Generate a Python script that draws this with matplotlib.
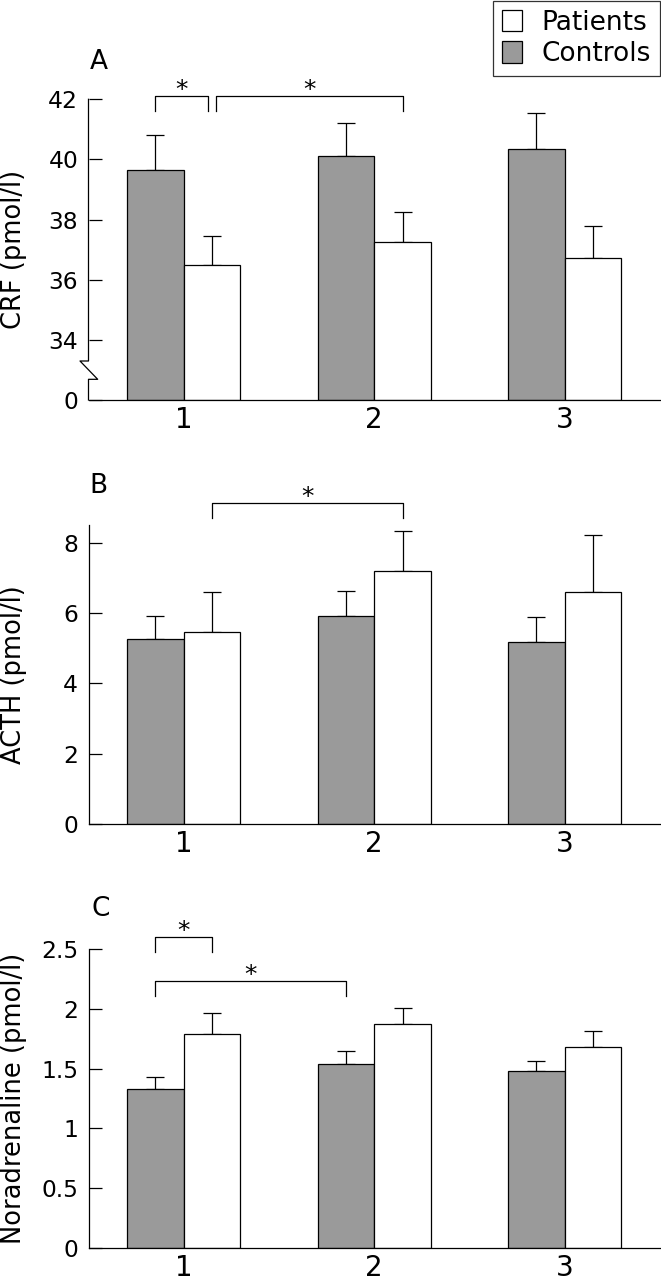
import numpy as np
import matplotlib
matplotlib.use('Agg')
import matplotlib.pyplot as plt
from matplotlib.lines import Line2D

# --- data ---
groups = [1, 2, 3]
group_labels = ['1', '2', '3']

crf_controls = [39.64, 40.12, 40.34]
crf_controls_se = [1.17, 1.10, 1.22]
crf_patients = [36.49, 37.24, 36.73]
crf_patients_se = [0.95, 1.02, 1.07]

acth_controls = [5.26, 5.91, 5.19]
acth_controls_se = [0.65, 0.72, 0.69]
acth_patients = [5.45, 7.20, 6.61]
acth_patients_se = [1.16, 1.13, 1.62]

nor_controls = [1.33, 1.54, 1.48]
nor_controls_se = [0.10, 0.11, 0.08]
nor_patients = [1.79, 1.87, 1.68]
nor_patients_se = [0.17, 0.135, 0.135]

GREY = '#9a9a9a'
W, H = 661, 1280
BW = 0.297
plt.rcParams['font.family'] = ['DejaVu Sans']

fig = plt.figure(figsize=(W / 100, H / 100), dpi=100)


def add_axes_px(left, top, right, bottom):
    return fig.add_axes([left / W, 1 - bottom / H, (right - left) / W, (bottom - top) / H])


def draw_panel(ax, ctrl, ctrl_se, pat, pat_se, ylabel):
    x = np.array(groups, dtype=float)
    bc = ax.bar(x - BW / 2, ctrl, BW, color=GREY, edgecolor='black', linewidth=0.9, zorder=2)
    bp = ax.bar(x + BW / 2, pat, BW, color='white', edgecolor='black', linewidth=0.9, zorder=2)
    ax.errorbar(x - BW / 2, ctrl, yerr=[np.zeros(3), ctrl_se], fmt='none', ecolor='black',
                elinewidth=0.9, capsize=6.8, capthick=0.9, zorder=1)
    ax.errorbar(x + BW / 2, pat, yerr=[np.zeros(3), pat_se], fmt='none', ecolor='black',
                elinewidth=0.9, capsize=6.8, capthick=0.9, zorder=1)
    ax.set_xlim(0.5, 3.5)
    ax.set_xticks(groups)
    ax.set_xticklabels(group_labels)
    for s in ['top', 'right']:
        ax.spines[s].set_visible(False)
    for s in ['left', 'bottom']:
        ax.spines[s].set_linewidth(0.9)
    ax.tick_params(axis='y', direction='in', length=9.5, width=0.9, labelsize=16.8, pad=7.5)
    ax.tick_params(axis='x', length=0, labelsize=20, pad=4)
    ax.set_ylabel(ylabel, fontsize=18.5)
    ax.yaxis.set_label_coords(-0.108, 0.5)
    return bc, bp


def bracket(ax, x1, x2, ytop, ybot):
    ax.plot([x1, x1, x2, x2], [ybot, ytop, ytop, ybot], color='black', lw=0.9,
            clip_on=False, zorder=3)
    ax.annotate('*', xy=((x1 + x2) / 2, ytop), xytext=(0, -0.5), textcoords='offset points',
                ha='center', va='baseline', fontsize=18, annotation_clip=False)


# --- Panel A: CRF with broken axis ---
def fwd(v):
    v = np.asarray(v, dtype=float)
    return np.where(v >= 34, v - 32, v / 17.0)


def inv(t):
    t = np.asarray(t, dtype=float)
    return np.where(t >= 2, t + 32, t * 17.0)


axA = add_axes_px(88.5, 99.3, 660, 400)
axA.set_yscale('function', functions=(fwd, inv))
bc, bp = draw_panel(axA, crf_controls, crf_controls_se, crf_patients, crf_patients_se, 'CRF (pmol/l)')
axA.set_ylim(0, 42)
axA.set_yticks([0, 34, 36, 38, 40, 42])
axA.set_yticklabels(['0', '34', '36', '38', '40', '42'])
axA.spines['left'].set_visible(False)
axA.add_line(Line2D([0, 0, -0.0149, 0.0161, 0, 0], [1, 0.1297, 0.1297, 0.0688, 0.0688, 0],
                    transform=axA.transAxes, color='black', lw=0.9, clip_on=False))
bracket(axA, 1 - BW / 2, 1 + BW / 2 - 0.02, 42.11, 41.61)
bracket(axA, 1 + BW / 2 + 0.02, 2 + BW / 2, 42.11, 41.61)

# --- Panel B: ACTH ---
axB = add_axes_px(88.5, 525, 660, 824.3)
draw_panel(axB, acth_controls, acth_controls_se, acth_patients, acth_patients_se, 'ACTH (pmol/l)')
axB.set_ylim(0, 8.5)
axB.set_yticks([0, 2, 4, 6, 8])
bracket(axB, 1 + BW / 2, 2 + BW / 2, 9.12, 8.69)

# --- Panel C: Noradrenaline ---
axC = add_axes_px(88.5, 948.7, 660, 1248.3)
draw_panel(axC, nor_controls, nor_controls_se, nor_patients, nor_patients_se, 'Noradrenaline (pmol/l)')
axC.set_ylim(0, 2.5)
axC.set_yticks([0, 0.5, 1, 1.5, 2, 2.5])
axC.set_yticklabels(['0', '0.5', '1', '1.5', '2', '2.5'])
bracket(axC, 1 - BW / 2, 1 + BW / 2, 2.594, 2.469)
bracket(axC, 1 - BW / 2, 2 - BW / 2, 2.229, 2.104)

# panel letters
for letter, (px, py) in zip('ABC', [(99, 62), (98, 486), (101, 909)]):
    fig.text(px / W, 1 - py / H, letter, fontsize=19, ha='center', va='center')

leg = fig.legend([bp, bc], ['Patients', 'Controls'], loc='upper right',
                 bbox_to_anchor=(660 / W, 1 - 0.5 / H), fontsize=19, frameon=True,
                 fancybox=False, borderpad=0.35, handlelength=0.76, handleheight=0.87,
                 handletextpad=0.72, labelspacing=0.2, borderaxespad=0)
leg.get_frame().set_edgecolor('black')
leg.get_frame().set_linewidth(0.9)

fig.savefig('out.png', dpi=100)
